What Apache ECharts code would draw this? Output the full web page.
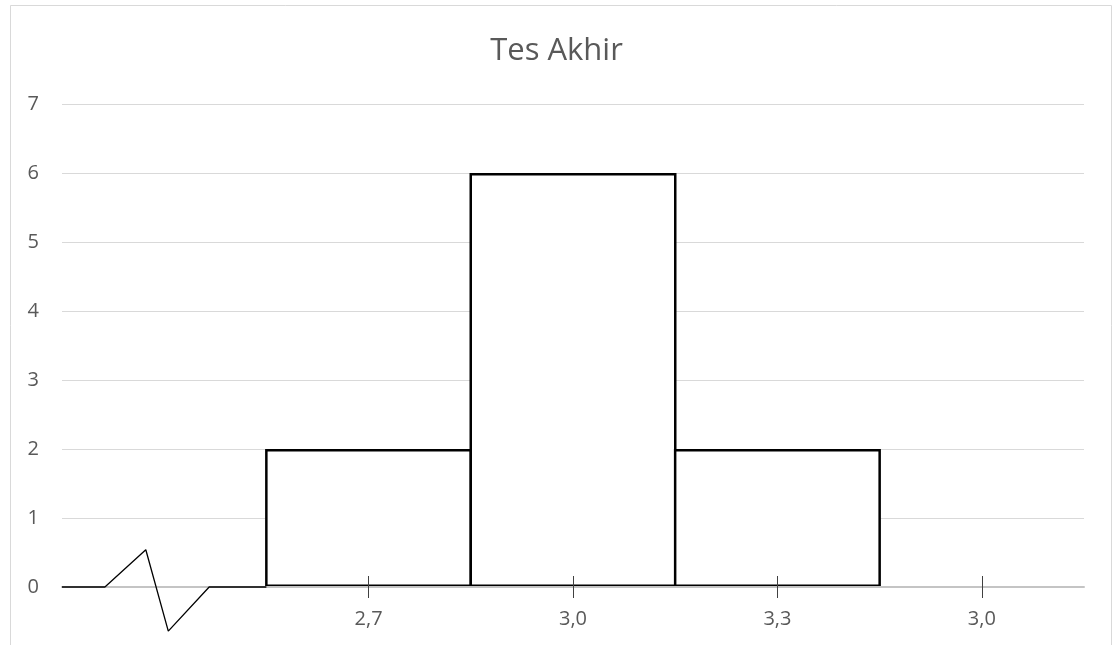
<!DOCTYPE html>
<html>
<head>
<meta charset="utf-8">
<script src="https://cdn.jsdelivr.net/npm/echarts@6/dist/echarts.min.js"></script>
<style>
  html, body { margin: 0; padding: 0; background: #fff; }
  #chart { width: 1113px; height: 645px; }
</style>
</head>
<body>
<div id="chart"></div>
<script>
// Histogram of final test scores
const titleText = 'Tes Akhir';
const categories = ['', '2,7', '3,0', '3,3', '3,0'];
const frequencies = ['-', 2, 6, 2, '-'];
const yTicks = { min: 0, max: 7, interval: 1 };

// Axis-break zigzag in the first (empty) class, in category units / frequency units
const breakX = [0, 0.21, 0.41, 0.52, 0.72, 1.0];
const breakY = [0, 0, 0.54, -0.64, 0, 0];

const FONT = '"Open Sans", "Liberation Sans", sans-serif';
const TEXT = '#595959';
const GRID = '#d9d9d9';

const chart = echarts.init(document.getElementById('chart'), null, { renderer: 'canvas' });

const tickShown = (index) => index > 0;

chart.setOption({
  animation: false,
  backgroundColor: '#ffffff',
  title: {
    text: titleText,
    left: 'center',
    top: 31,
    textStyle: { fontFamily: FONT, fontSize: 31, fontWeight: 'normal', color: TEXT }
  },
  graphic: [{
    type: 'rect',
    shape: { x: 10.5, y: 5.5, width: 1101, height: 660 },
    style: { fill: null, stroke: GRID, lineWidth: 1 },
    silent: true,
    z: -10
  }],
  grid: { left: 62, top: 104, width: 1022, height: 483, containLabel: false },
  xAxis: [
    {
      type: 'category',
      data: categories,
      position: 'bottom',
      boundaryGap: true,
      z: 5,
      axisLine: { show: true, lineStyle: { color: '#c4c4c4', width: 2 } },
      axisTick: { show: true, alignWithLabel: true, interval: tickShown, length: 11, lineStyle: { color: '#404040', width: 1 } },
      axisLabel: { show: true, interval: 0, margin: 22, fontFamily: FONT, fontSize: 20, color: TEXT },
      splitLine: { show: false }
    },
    {
      type: 'category',
      data: categories,
      position: 'bottom',
      boundaryGap: true,
      z: 5,
      axisLine: { show: false },
      axisTick: { show: true, inside: true, alignWithLabel: true, interval: tickShown, length: 11, lineStyle: { color: '#404040', width: 1 } },
      axisLabel: { show: false },
      splitLine: { show: false }
    },
    {
      type: 'value',
      min: 0,
      max: categories.length,
      show: false
    }
  ],
  yAxis: {
    type: 'value',
    min: yTicks.min,
    max: yTicks.max,
    interval: yTicks.interval,
    axisLine: { show: false },
    axisTick: { show: false },
    axisLabel: { margin: 23, fontFamily: FONT, fontSize: 20, color: TEXT },
    splitLine: { show: true, lineStyle: { color: GRID, width: 1 } }
  },
  series: [
    {
      type: 'bar',
      xAxisIndex: 0,
      data: frequencies,
      barWidth: 207,
      itemStyle: { color: '#ffffff', borderColor: '#000000', borderWidth: 2.5 },
      z: 2
    },
    {
      type: 'line',
      xAxisIndex: 2,
      data: breakX.map((x, i) => [x, breakY[i]]),
      clip: false,
      symbol: 'none',
      lineStyle: { color: '#000000', width: 1.3 },
      z: 10
    }
  ]
});
</script>
</body>
</html>
